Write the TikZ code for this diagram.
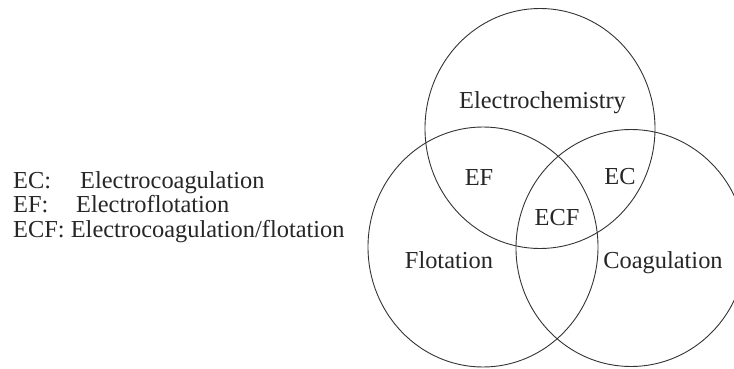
\documentclass[tikz,border=0pt]{standalone}
\usepackage{fontspec}
\setmainfont{Liberation Serif}
\usetikzlibrary{calc}

\tikzset{
  lbl/.style={font=\fontsize{24.4}{29}\selectfont, text=black!85, inner sep=0pt, anchor=base},
  ring/.style={draw=black!80, line width=0.9pt}
}

\begin{document}
\begin{tikzpicture}[x=1pt,y=-1pt]
\useasboundingbox (0,0) rectangle (734,369);
\clip (0,0) rectangle (734,369);
\begin{scope}
\draw[ring] (540,128.5) ellipse [x radius=115, y radius=120];
\draw[ring] (483,247) ellipse [x radius=115, y radius=120];
\draw[ring] (631,248) ellipse [x radius=115, y radius=118.5];
\end{scope}

\begin{scope}
\node[lbl] (chem) at (542.5,108) {Electrochemistry};
\node[lbl] (flot) at (449,268) {Flotation};
\node[lbl] (coag) at (663,268) {Coagulation};
\node[lbl] (ef) at (479,185) {EF};
\node[lbl] (ec) at (620,184) {EC};
\node[lbl] (ecf) at (557,225) {ECF};
\end{scope}

\begin{scope}
\node[lbl, anchor=base west] (legec) at (13,188) {EC:};
\node[lbl, anchor=base west] (legecdef) at (80,188) {Electrocoagulation};
\node[lbl, anchor=base west] (legef) at (13,212) {EF:};
\node[lbl, anchor=base west] (legefdef) at (76,212) {Electroflotation};
\node[lbl, anchor=base west] (legecf) at (13,237) {ECF: Electrocoagulation/flotation};
\end{scope}
\end{tikzpicture}
\end{document}
